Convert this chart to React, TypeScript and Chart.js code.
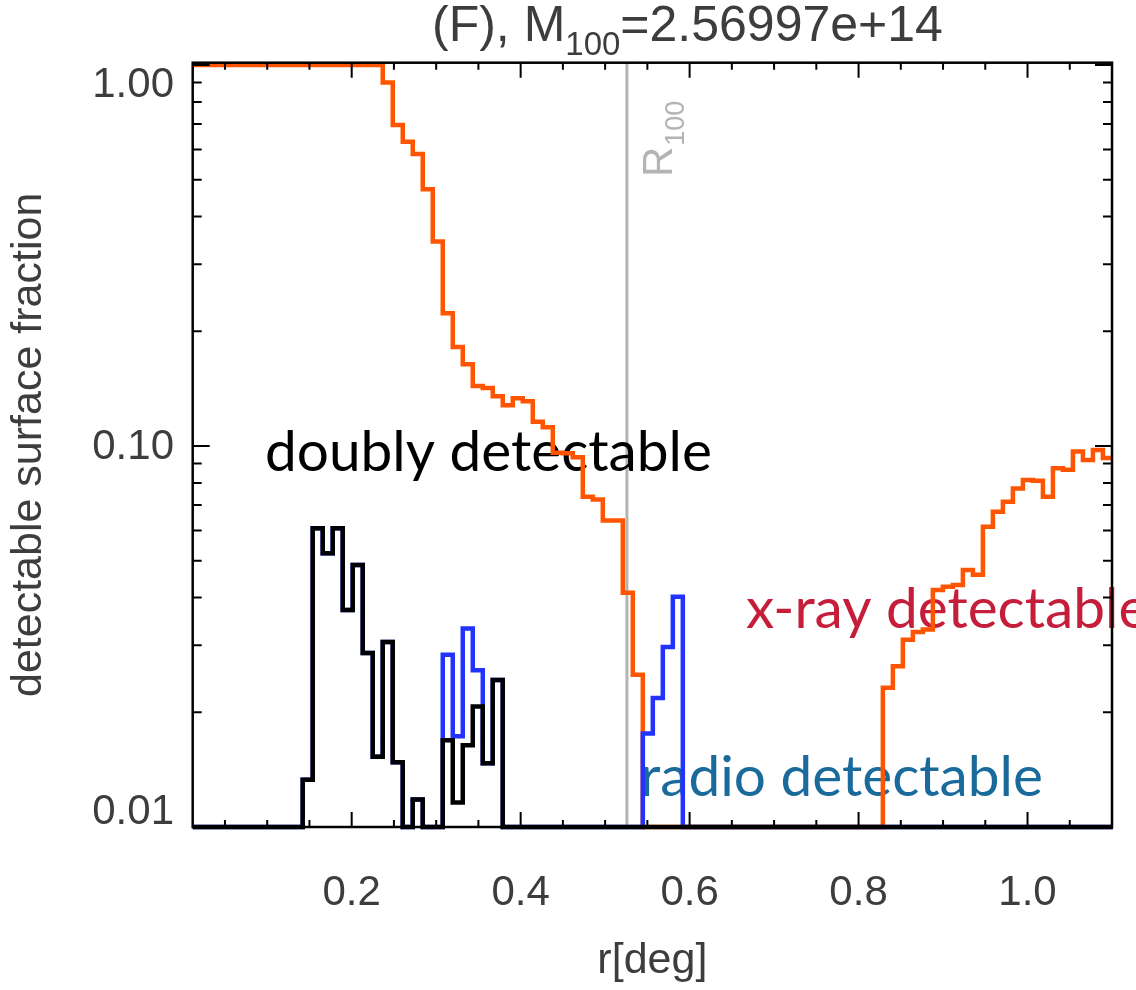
import React, { useEffect, useRef } from 'react';
import { Chart, registerables } from 'chart.js';

Chart.register(...registerables);

// ---- data (histogram bins, left edges = BIN_START + i * BIN_WIDTH) ----
const BIN_START = 0.0118;
const BIN_WIDTH = 0.01184;

const xrayFraction = [
  1, 1, 1, 1, 1, 1, 1, 1, 1, 1,
  1, 1, 1, 1, 1, 1, 1, 1, 1,
  0.899, 0.696, 0.629, 0.584, 0.472, 0.344, 0.223, 0.182, 0.164, 0.1437,
  0.142, 0.135, 0.128, 0.1334, 0.131, 0.1158, 0.112, 0.096, 0.0957, 0.0934,
  0.0736, 0.0724, 0.0637, 0.0637, 0.0412, 0.0251,
  0, 0, 0, 0, 0, 0, 0, 0, 0, 0, 0, 0, 0, 0, 0, 0, 0, 0, 0, 0, 0, 0, 0, 0,
  0.0232, 0.0264, 0.031, 0.0325, 0.033, 0.0419, 0.0427, 0.0432, 0.0473, 0.0459,
  0.0614, 0.0672, 0.0714, 0.0774, 0.0814, 0.081, 0.0736, 0.0874, 0.0866, 0.0967,
  0.0919, 0.0976, 0.093,
];

const radioFraction = [
  0, 0, 0, 0, 0, 0, 0, 0, 0, 0, 0,
  0.0133, 0.0608, 0.0523, 0.0608, 0.0371, 0.0487, 0.0286, 0.0153, 0.0306, 0.0148,
  0, 0.0118, 0, 0,
  0.0283, 0.0173, 0.0332, 0.0258, 0.0147, 0.0243,
  0, 0, 0, 0, 0, 0, 0, 0, 0, 0, 0, 0, 0, 0,
  0.0176, 0.0218, 0.0297, 0.0402,
  0, 0, 0, 0, 0, 0, 0, 0, 0, 0, 0, 0, 0, 0, 0, 0, 0, 0, 0, 0, 0, 0,
  0, 0, 0, 0, 0, 0, 0, 0, 0, 0, 0, 0, 0, 0, 0, 0, 0, 0, 0, 0, 0,
];

const doublyFraction = [
  0, 0, 0, 0, 0, 0, 0, 0, 0, 0, 0,
  0.0133, 0.0608, 0.0523, 0.0608, 0.0371, 0.0487, 0.0286, 0.0153, 0.0306, 0.0148,
  0, 0.0118, 0, 0,
  0.0169, 0.0116, 0.0164, 0.0207, 0.0147, 0.0243,
  0, 0, 0, 0, 0, 0, 0, 0, 0, 0, 0, 0, 0, 0, 0, 0, 0, 0, 0, 0,
  0, 0, 0, 0, 0, 0, 0, 0, 0, 0, 0, 0, 0, 0, 0, 0, 0, 0, 0, 0,
  0, 0, 0, 0, 0, 0, 0, 0, 0, 0, 0, 0, 0, 0, 0, 0, 0, 0, 0, 0, 0,
];

const xTickValues = [0.2, 0.4, 0.6, 0.8, 1.0];
const xTickLabels = ['0.2', '0.4', '0.6', '0.8', '1.0'];
const yTickValues = [0.01, 0.1, 1];
const yTickLabels = ['0.01', '0.10', '1.00'];
const R100 = 0.5258;

const X_MIN = 0.0118;
const X_MAX = 1.1;
const Y_MIN = 0.01;
const Y_MAX = 1.014;

const SANS = '"Liberation Sans", Arial, Helvetica, sans-serif';
const TEXT_GRAY = '#3d3d3d';

function toPoints(vals: number[]) {
  const pts = vals.map((v, i) => ({ x: BIN_START + i * BIN_WIDTH, y: Math.max(v, Y_MIN) }));
  pts.push({ x: BIN_START + vals.length * BIN_WIDTH, y: Math.max(vals[vals.length - 1], Y_MIN) });
  return pts;
}

const decorPlugin = {
  id: 'decor',
  beforeDatasetsDraw(chart: any) {
    const { ctx, chartArea, scales } = chart;
    const { top, bottom } = chartArea;
    const x = scales.x;
    ctx.save();
    // R100 vertical line
    const rx = x.getPixelForValue(R100);
    ctx.strokeStyle = '#b4b4b4';
    ctx.lineWidth = 3;
    ctx.beginPath();
    ctx.moveTo(rx, top);
    ctx.lineTo(rx, bottom);
    ctx.stroke();
    // R100 label (rotated)
    ctx.save();
    ctx.translate(rx + 45, 177);
    ctx.rotate(-Math.PI / 2);
    ctx.fillStyle = '#b4b4b4';
    ctx.textAlign = 'left';
    ctx.textBaseline = 'alphabetic';
    ctx.font = `42px ${SANS}`;
    ctx.fillText('R', 0, 0);
    const rw = ctx.measureText('R').width;
    ctx.font = `27px ${SANS}`;
    ctx.fillText('100', rw + 1, 12);
    ctx.restore();

    // annotations
    ctx.font = `100px Lato, "Noto Sans", sans-serif`;
    const w = ctx.measureText('doubly detectable').width;
    const size = (100 * 447) / w;
    ctx.font = `${size}px Lato, "Noto Sans", sans-serif`;
    ctx.textAlign = 'left';
    ctx.textBaseline = 'alphabetic';
    ctx.fillStyle = '#000000';
    ctx.fillText('doubly detectable', 265, 471);
    ctx.fillStyle = '#c41e3a';
    ctx.fillText('x-ray detectable', 746, 628);
    ctx.fillStyle = '#1a6a9c';
    ctx.fillText('radio detectable', 640, 796);
    ctx.restore();
  },
  afterDatasetsDraw(chart: any) {
    const { ctx, chartArea, scales } = chart;
    const { left, right, top, bottom } = chartArea;
    const x = scales.x;
    const y = scales.y;
    ctx.save();
    ctx.strokeStyle = '#000000';
    ctx.lineWidth = 2.5;
    ctx.strokeRect(left, top, right - left, bottom - top);
    ctx.lineWidth = 2;
    ctx.beginPath();
    // x ticks: minor every 0.05, major every 0.2
    for (let k = 1; k * 0.05 <= X_MAX + 1e-9; k++) {
      const v = k * 0.05;
      if (v < X_MIN) continue;
      const px = x.getPixelForValue(v);
      const major = k % 4 === 0;
      const len = major ? 15 : 7;
      ctx.moveTo(px, bottom);
      ctx.lineTo(px, bottom - len);
      ctx.moveTo(px, top);
      ctx.lineTo(px, top + len);
    }
    // y ticks: log decades
    for (let e = -2; e <= 0; e++) {
      for (let m = 1; m <= 9; m++) {
        const v = m * Math.pow(10, e);
        if (v < Y_MIN - 1e-12 || v > Y_MAX) continue;
        const py = y.getPixelForValue(v);
        const len = m === 1 ? 17 : 9;
        ctx.moveTo(left, py);
        ctx.lineTo(left + len, py);
        ctx.moveTo(right, py);
        ctx.lineTo(right - len, py);
      }
    }
    ctx.stroke();
    ctx.restore();
  },
  afterDraw(chart: any) {
    const { ctx, scales } = chart;
    const y = scales.y;
    ctx.save();
    // y tick labels
    ctx.font = `42px ${SANS}`;
    ctx.fillStyle = TEXT_GRAY;
    ctx.textAlign = 'right';
    ctx.textBaseline = 'middle';
    const offsets = [-15, 1, 20];
    yTickValues.forEach((v, i) => {
      ctx.fillText(yTickLabels[i], 174, y.getPixelForValue(v) + offsets[i]);
    });
    // title
    ctx.textAlign = 'left';
    ctx.textBaseline = 'alphabetic';
    let cx = 432;
    ctx.font = `50px ${SANS}`;
    ctx.fillText('(F), M', cx, 41);
    cx += ctx.measureText('(F), M').width;
    ctx.font = `33px ${SANS}`;
    ctx.fillText('100', cx, 55);
    cx += ctx.measureText('100').width;
    ctx.font = `50px ${SANS}`;
    ctx.fillText('=2.56997e+14', cx, 41);
    ctx.restore();
  },
};

export default function App() {
  const canvasRef = useRef<HTMLCanvasElement | null>(null);

  useEffect(() => {
    const canvas = canvasRef.current;
    if (!canvas) return;
    const chart = new Chart(canvas, {
      type: 'line',
      data: {
        datasets: [
          {
            label: 'doubly detectable',
            data: toPoints(doublyFraction),
            borderColor: '#000000',
            borderWidth: 4.5,
            stepped: 'before',
            pointRadius: 0,
            fill: false,
            clip: 6,
          },
          {
            label: 'radio detectable',
            data: toPoints(radioFraction),
            borderColor: '#2233ff',
            borderWidth: 4.5,
            stepped: 'before',
            pointRadius: 0,
            fill: false,
            clip: 6,
          },
          {
            label: 'x-ray detectable',
            data: toPoints(xrayFraction),
            borderColor: '#ff5500',
            borderWidth: 4.5,
            stepped: 'before',
            pointRadius: 0,
            fill: false,
            clip: 6,
          },
        ],
      },
      options: {
        animation: false,
        responsive: false,
        devicePixelRatio: 1,
        parsing: false,
        layout: { padding: { left: 0, top: 62.7, right: 24, bottom: 0 } },
        plugins: {
          legend: { display: false },
          tooltip: { enabled: false },
          title: { display: false },
        },
        elements: { point: { radius: 0 }, line: { tension: 0 } },
        scales: {
          x: {
            type: 'linear',
            position: 'bottom',
            min: X_MIN,
            max: X_MAX,
            grid: { display: false, drawTicks: false },
            border: { display: false },
            afterBuildTicks: (s: any) => {
              s.ticks = xTickValues.map((v) => ({ value: v }));
            },
            afterFit: (s: any) => {
              s.height = 163;
            },
            ticks: {
              autoSkip: false,
              maxRotation: 0,
              padding: 41,
              color: TEXT_GRAY,
              font: { family: SANS, size: 42 },
              callback: (_v: any, i: number) => xTickLabels[i],
            },
            title: {
              display: true,
              text: 'r[deg]',
              color: TEXT_GRAY,
              font: { family: SANS, size: 43 },
              padding: { top: 0, bottom: 3 },
            },
          },
          y: {
            type: 'logarithmic',
            min: Y_MIN,
            max: Y_MAX,
            grid: { display: false, drawTicks: false },
            border: { display: false },
            afterBuildTicks: (s: any) => {
              s.ticks = yTickValues.map((v) => ({ value: v }));
            },
            afterFit: (s: any) => {
              s.width = 192.7;
            },
            ticks: { display: false },
            title: {
              display: true,
              text: 'detectable surface fraction',
              color: TEXT_GRAY,
              font: { family: SANS, size: 43 },
              padding: { top: 3, bottom: 0 },
            },
          },
        },
      } as any,
      plugins: [decorPlugin],
    });
    return () => chart.destroy();
  }, []);

  return (
    <div style={{ position: 'absolute', left: 0, top: 0, width: 1136, height: 990, background: '#fff' }}>
      <canvas ref={canvasRef} width={1136} height={990} style={{ display: 'block' }} />
    </div>
  );
}
